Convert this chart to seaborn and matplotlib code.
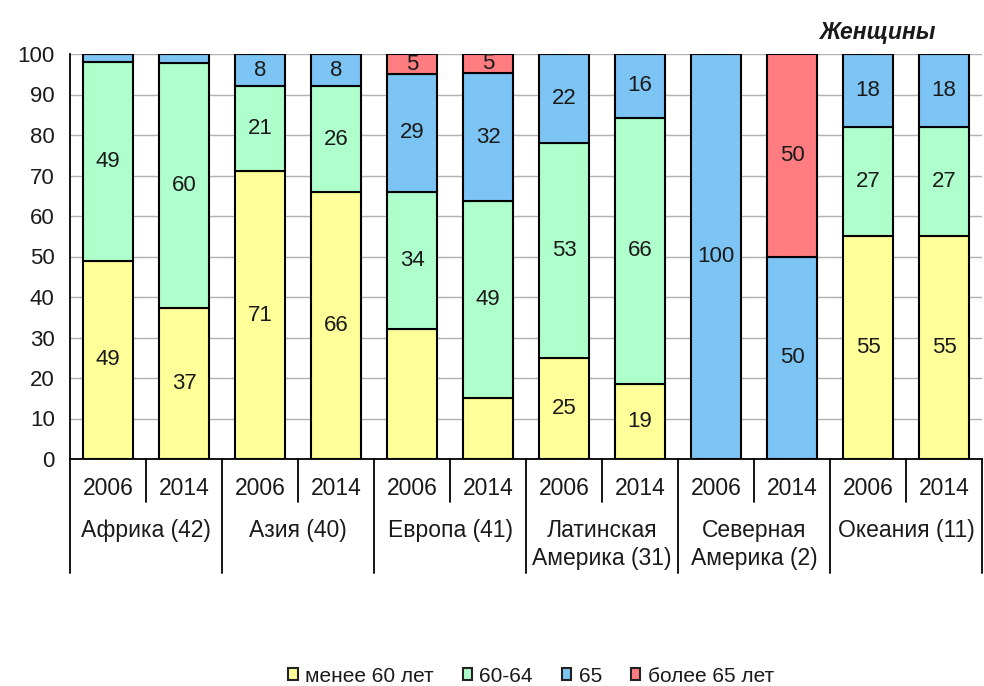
import numpy as np
import pandas as pd
import matplotlib
matplotlib.use("Agg")
import matplotlib.pyplot as plt
from matplotlib.lines import Line2D
from matplotlib.patches import Patch
import seaborn as sns

regions = ["Африка (42)", "Азия (40)", "Европа (41)", "Латинская\nАмерика (31)",
           "Северная\nАмерика (2)", "Океания (11)"]
years = ["2006", "2014"]

# shares (%) per bar, order: region x year
under60 = [49, 37.4, 71, 66, 32, 15, 25, 18.6, 0, 0, 55, 55]
age60_64 = [49, 60.4, 21, 26, 34, 48.6, 53, 65.6, 0, 0, 27, 27]
age65 = [2, 2.2, 8, 8, 29, 31.6, 22, 15.8, 100, 50, 18, 18]
over65 = [0, 0, 0, 0, 5, 4.8, 0, 0, 0, 50, 0, 0]

series = ["менее 60 лет", "60-64", "65", "более 65 лет"]
colors = ["#FFFF99", "#AFFFCC", "#7CC4F4", "#FF7C80"]
# segments drawn without a value label (series index, bar index)
no_label = {(2, 0), (2, 1), (0, 4), (0, 5)}

keys = [f"{r}|{y}" for r in regions for y in years]
df = pd.DataFrame({"key": keys, series[0]: under60, series[1]: age60_64,
                   series[2]: age65, series[3]: over65})

sns.set_style("white")
plt.rcParams["font.family"] = ["Liberation Sans", "DejaVu Sans"]
txt = "#1a1a1a"

fig = plt.figure(figsize=(9.84, 6.86), dpi=100)
ax = fig.add_axes([70 / 984, 227 / 686, 912 / 984, 405 / 686])

bottom = np.zeros(len(keys))
for i, s in enumerate(series):
    sns.barplot(data=df, x="key", y=s, order=keys, color=colors[i], saturation=1,
                width=0.65, bottom=bottom, edgecolor="black", linewidth=1.5,
                ax=ax, zorder=3)
    vals = df[s].to_numpy()
    for j, v in enumerate(vals):
        if v > 0 and (i, j) not in no_label:
            ax.text(j, bottom[j] + v / 2, f"{v:.0f}", ha="center", va="center",
                    fontsize=16, color=txt, zorder=4)
    bottom = bottom + vals

ax.set_xlim(-0.5, 11.5)
ax.set_ylim(0, 100)
ax.set_yticks(range(0, 101, 10))
ax.tick_params(axis="y", labelsize=16, length=0, pad=11, labelcolor=txt)
ax.set_xticks([])
ax.set_xlabel("")
ax.set_ylabel("")
ax.yaxis.grid(True, color="#b0b0b0", linewidth=1, zorder=0)
for sp in ["top", "right"]:
    ax.spines[sp].set_visible(False)
for sp in ["left", "bottom"]:
    ax.spines[sp].set_color("black")
    ax.spines[sp].set_linewidth(1.3)

trans = ax.get_xaxis_transform()
for j, k in enumerate(keys):
    ax.text(j, -0.072, k.split("|")[1], transform=trans, ha="center", va="center",
            fontsize=16.5, color=txt)
for g, r in enumerate(regions):
    ax.text(2 * g + 0.5, -0.148, r, transform=trans, ha="center", va="top",
            fontsize=16.5, color=txt, linespacing=1.3)
for g in range(len(regions)):
    ax.add_line(Line2D([2 * g + 0.5] * 2, [0, -0.106], transform=trans,
                       color="black", lw=1.3, clip_on=False))
for g in range(len(regions) + 1):
    ax.add_line(Line2D([2 * g - 0.5] * 2, [0, -0.281], transform=trans,
                       color="black", lw=1.3, clip_on=False))

fig.text(878 / 984, 1 - 32 / 686, "Женщины", ha="center", va="center",
         fontsize=16.5, fontweight="bold", fontstyle="italic", color=txt)

handles = [Patch(facecolor=c, edgecolor="#222222", linewidth=1.5) for c in colors]
fig.legend(handles, series, loc="center", bbox_to_anchor=(531 / 984, 1 - 676 / 686),
           ncol=4, frameon=False, fontsize=15, handlelength=0.45, handleheight=0.55,
           handletextpad=0.35, columnspacing=1.4, labelcolor=txt)

fig.savefig("out.png", dpi=100)
